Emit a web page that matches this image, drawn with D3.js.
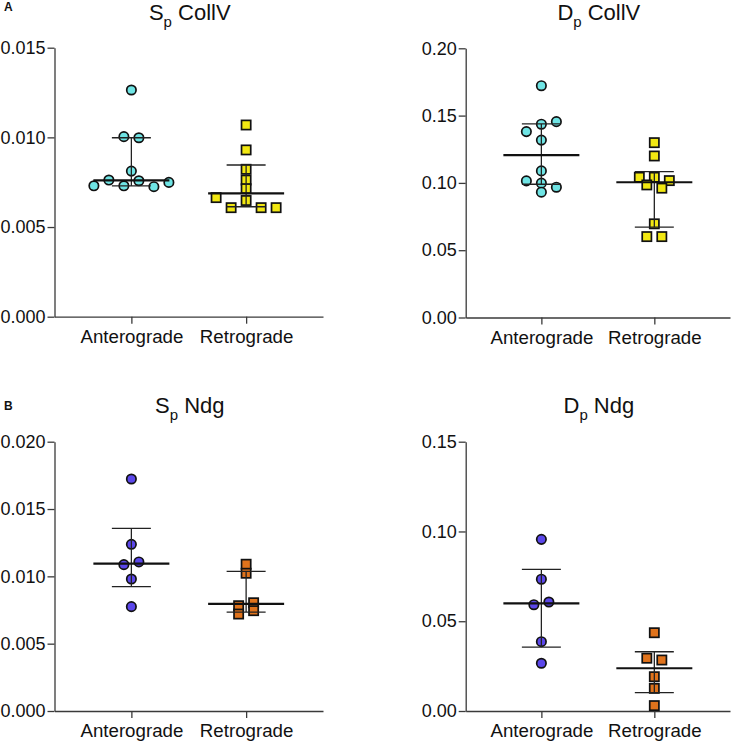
<!DOCTYPE html>
<html>
<head>
<meta charset="utf-8">
<script src="https://cdn.jsdelivr.net/npm/d3@7"></script>
<style>
  html, body { margin: 0; padding: 0; background: #fff; }
  svg { display: block; }
  text { font-family: "Liberation Sans", Arial, Helvetica, sans-serif; }
</style>
</head>
<body>
<svg id="chart" width="736" height="742"></svg>
<script>
// ---------------- data ----------------
const groups = ["Anterograde", "Retrograde"];

const spCollAnt = [0.01264, 0.01004, 0.00998, 0.00812, 0.0073, 0.00762, 0.0073, 0.00758, 0.00725, 0.00749];
const spCollRet = [0.01069, 0.00930, 0.00822, 0.00762, 0.00714, 0.00664, 0.00608, 0.00648, 0.00608, 0.00608];
const spCollMedian = [0.0076, 0.00688];
const spCollLow = [0.0073, 0.00613];
const spCollHigh = [0.00998, 0.00846];
const spCollTicks = [0, 0.005, 0.010, 0.015];

const dpCollAnt = [0.1722, 0.1381, 0.1436, 0.1455, 0.1318, 0.1089, 0.1015, 0.0998, 0.0968, 0.0931];
const dpCollRet = [0.1299, 0.1200, 0.1042, 0.1042, 0.1017, 0.0985, 0.0961, 0.0696, 0.0601, 0.0601];
const dpCollMedian = [0.1206, 0.1005];
const dpCollLow = [0.0990, 0.0671];
const dpCollHigh = [0.1438, 0.1084];
const dpCollTicks = [0, 0.05, 0.10, 0.15, 0.20];

const spNdgAnt = [0.01723, 0.01238, 0.01087, 0.01107, 0.00980, 0.00775];
const spNdgRet = [0.01090, 0.01023, 0.00782, 0.00804, 0.00720, 0.00745];
const spNdgMedian = [0.01094, 0.00795];
const spNdgLow = [0.00923, 0.00735];
const spNdgHigh = [0.01357, 0.01037];
const spNdgTicks = [0, 0.005, 0.010, 0.015, 0.020];

const dpNdgAnt = [0.0956, 0.0734, 0.0592, 0.0607, 0.0386, 0.0266];
const dpNdgRet = [0.0436, 0.0294, 0.0284, 0.0191, 0.0126, 0.0030];
const dpNdgMedian = [0.0600, 0.0238];
const dpNdgLow = [0.0356, 0.0102];
const dpNdgHigh = [0.0789, 0.0330];
const dpNdgTicks = [0, 0.05, 0.10, 0.15];

const titles = [["S", "p", " CollV"], ["D", "p", " CollV"], ["S", "p", " Ndg"], ["D", "p", " Ndg"]];
const panelLetters = ["A", "B"];

// ---------------- layout ----------------
const svg = d3.select("#chart");
const colAnt = ["#6FE4E4", "#6FE4E4", "#5B47EA", "#5B47EA"];
const colRet = ["#F2E812", "#F2E812", "#E0731C", "#E0731C"];

const panels = [
  {x0: 54.5, x1: 323, yb: 316.7, yt: 47.7, ticks: spCollTicks, fmt: d3.format(".3f"),
   ant: spCollAnt, ret: spCollRet, med: spCollMedian, lo: spCollLow, hi: spCollHigh, tY: 20},
  {x0: 465.7, x1: 730, yb: 317.5, yt: 48.3, ticks: dpCollTicks, fmt: d3.format(".2f"),
   ant: dpCollAnt, ret: dpCollRet, med: dpCollMedian, lo: dpCollLow, hi: dpCollHigh, tY: 20},
  {x0: 54.5, x1: 323, yb: 711, yt: 441.7, ticks: spNdgTicks, fmt: d3.format(".3f"),
   ant: spNdgAnt, ret: spNdgRet, med: spNdgMedian, lo: spNdgLow, hi: spNdgHigh, tY: 413},
  {x0: 465.7, x1: 730, yb: 711, yt: 441.7, ticks: dpNdgTicks, fmt: d3.format(".2f"),
   ant: dpNdgAnt, ret: dpNdgRet, med: dpNdgMedian, lo: dpNdgLow, hi: dpNdgHigh, tY: 413}
];

// column-scatter layout: group points whose pixel heights are close,
// split tall groups into stacked rows, spread each row symmetrically
function scatterOffsets(ys, gap, step, maxSpan) {
  const idx = ys.map((y, i) => i).sort((a, b) => ys[a] - ys[b] || a - b);
  let clusters = [];
  let cur = [];
  idx.forEach((i, k) => {
    if (k > 0 && ys[i] - ys[idx[k - 1]] >= gap) { clusters.push(cur); cur = []; }
    cur.push(i);
  });
  if (cur.length) clusters.push(cur);
  function split(c) {
    if (c.length < 2 || ys[c[c.length - 1]] - ys[c[0]] < maxSpan) return [c];
    let best = 1, bg = -1;
    for (let k = 1; k < c.length; k++) {
      const gg = ys[c[k]] - ys[c[k - 1]];
      if (gg > bg) { bg = gg; best = k; }
    }
    return split(c.slice(0, best)).concat(split(c.slice(best)));
  }
  clusters = clusters.flatMap(split);
  const off = new Array(ys.length).fill(0);
  clusters.forEach(c => {
    const m = c.slice().sort((a, b) => a - b);
    const n = m.length;
    m.forEach((i, j) => { off[i] = (j - (n - 1) / 2) * step; });
  });
  return off;
}

panels.forEach((p, pi) => {
  const g = svg.append("g");
  const y = d3.scaleLinear().domain([0, d3.max(p.ticks)]).range([p.yb, p.yt]);
  const x = d3.scalePoint().domain(groups).range([p.x0, p.x1]).padding(0.67);

  // y axis
  const ya = g.append("g").attr("transform", `translate(${p.x0},0)`)
    .call(d3.axisLeft(y).tickValues(p.ticks).tickFormat(p.fmt).tickSize(7).tickSizeOuter(0).tickPadding(2));
  // x axis
  const xa = g.append("g").attr("transform", `translate(0,${p.yb})`)
    .call(d3.axisBottom(x).tickSize(7).tickSizeOuter(0).tickPadding(5));
  [ya, xa].forEach(a => {
    a.selectAll("path.domain").attr("stroke", "#3a3a3a").attr("stroke-width", 1.3);
    a.selectAll(".tick line").attr("stroke", "#3a3a3a").attr("stroke-width", 1.3);
    a.selectAll(".tick text").attr("fill", "#111")
      .style("font-family", '"Liberation Sans", Arial, sans-serif');
  });
  ya.selectAll(".tick text").style("font-size", "18px");
  xa.selectAll(".tick text").style("font-size", "18.7px").attr("dy", "0.75em");

  // title
  const t = titles[pi];
  const tt = g.append("text").attr("x", (p.x0 + p.x1) / 2 + 1).attr("y", p.tY)
    .attr("text-anchor", "middle").style("font-size", "22px").attr("fill", "#111");
  tt.append("tspan").text(t[0]);
  tt.append("tspan").text(t[1]).attr("dy", 7).style("font-size", "15px");
  tt.append("tspan").text(t[2]).attr("dy", -7);

  // points
  const series = [p.ant, p.ret];
  series.forEach((vals, si) => {
    const ys = vals.map(v => y(v));
    const off = scatterOffsets(ys, 8, 15, 10.5);
    const cx = x(groups[si]);
    if (si === 0) {
      g.append("g").selectAll("circle").data(vals).join("circle")
        .attr("cx", (d, i) => cx + off[i]).attr("cy", d => y(d)).attr("r", 4.7)
        .attr("fill", colAnt[pi]).attr("stroke", "#111").attr("stroke-width", 1.7);
    } else {
      const s = 9.2;
      g.append("g").selectAll("rect").data(vals).join("rect")
        .attr("x", (d, i) => cx + off[i] - s / 2).attr("y", d => y(d) - s / 2)
        .attr("width", s).attr("height", s)
        .attr("fill", colRet[pi]).attr("stroke", "#111").attr("stroke-width", 1.7);
    }
  });

  // median with interquartile range
  const eb = g.append("g");
  groups.forEach((grp, gi) => {
    const cx = x(grp);
    eb.append("line").attr("x1", cx).attr("x2", cx).attr("y1", y(p.lo[gi])).attr("y2", y(p.hi[gi]))
      .attr("stroke", "#222").attr("stroke-width", 1.3);
    [p.lo[gi], p.hi[gi]].forEach(v => {
      eb.append("line").attr("x1", cx - 19.5).attr("x2", cx + 19.5).attr("y1", y(v)).attr("y2", y(v))
        .attr("stroke", "#222").attr("stroke-width", 1.3);
    });
    eb.append("line").attr("x1", cx - 38).attr("x2", cx + 38).attr("y1", y(p.med[gi])).attr("y2", y(p.med[gi]))
      .attr("stroke", "#111").attr("stroke-width", 2.2);
  });
});

// panel letters
svg.append("text").attr("x", 4).attr("y", 11).text(panelLetters[0])
  .style("font-size", "12px").style("font-weight", "bold").attr("fill", "#111");
svg.append("text").attr("x", 4).attr("y", 409.5).text(panelLetters[1])
  .style("font-size", "12px").style("font-weight", "bold").attr("fill", "#111");
</script>
</body>
</html>
